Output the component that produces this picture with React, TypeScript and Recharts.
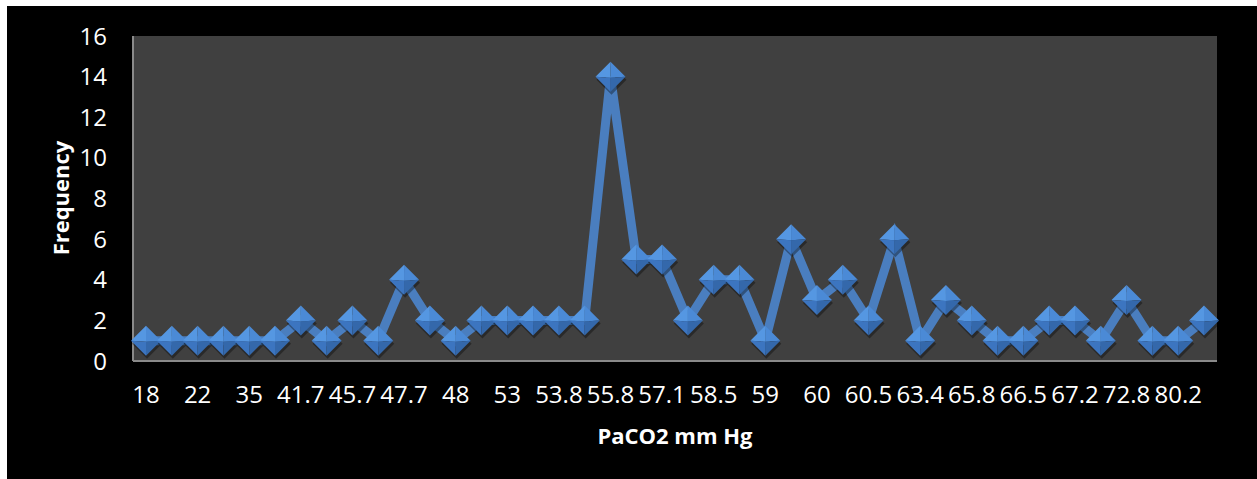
import React from "react";
import { LineChart, Line, XAxis, YAxis, CartesianGrid } from "recharts";

const categories = [
  "18", "20", "22", "30", "35", "40", "41.7", "43", "45.7", "47",
  "47.7", "47.9", "48", "50", "53", "53.5", "53.8", "55", "55.8", "56",
  "57.1", "58", "58.5", "58.8", "59", "59.5", "60", "60.2", "60.5", "62",
  "63.4", "64", "65.8", "66", "66.5", "67", "67.2", "70", "72.8", "75",
  "80.2", "85",
];

const frequency = [
  1, 1, 1, 1, 1, 1, 2, 1, 2, 1,
  4, 2, 1, 2, 2, 2, 2, 2, 14, 5,
  5, 2, 4, 4, 1, 6, 3, 4, 2, 6,
  1, 3, 2, 1, 1, 2, 2, 1, 3, 1,
  1, 2,
];

const yTicks = [0, 2, 4, 6, 8, 10, 12, 14, 16];

const data = categories.map((c, i) => ({ paco2: c, frequency: frequency[i] }));

const FONT = "'Open Sans', sans-serif";

const Diamond = (props: any) => {
  const { cx, cy } = props;
  if (cx == null || cy == null) return null;
  const r = 15;
  const t = `${cx},${cy - r}`;
  const b = `${cx},${cy + r}`;
  const l = `${cx - r},${cy}`;
  const rr = `${cx + r},${cy}`;
  const c = `${cx},${cy + 1}`;
  return (
    <g>
      <polygon points={`${cx + 1},${cy - r + 3} ${cx + r + 1},${cy + 3} ${cx + 1},${cy + r + 3} ${cx - r + 1},${cy + 3}`} fill="rgba(0,0,0,0.35)" />
      <polygon points={`${t} ${rr} ${c}`} fill="#4b8ad6" />
      <polygon points={`${t} ${l} ${c}`} fill="#5597e2" />
      <polygon points={`${l} ${b} ${c}`} fill="#3c75c0" />
      <polygon points={`${rr} ${b} ${c}`} fill="#3468ab" />
    </g>
  );
};

export default function App() {
  return (
    <div
      style={{
        position: "absolute",
        left: 7,
        top: 6,
        width: 1250,
        height: 473,
        background: "#000000",
      }}
    >
      <LineChart
        width={1250}
        height={473}
        data={data}
        margin={{ top: 30, right: 40, bottom: 28, left: 66 }}
      >
        <CartesianGrid fill="#404040" horizontal={false} vertical={false} stroke="none" />
        <XAxis
          dataKey="paco2"
          interval={1}
          height={90}
          padding={{ left: 13, right: 13 }}
          tickLine={false}
          tickSize={0}
          tickMargin={25}
          axisLine={{ stroke: "#8a8a8a", strokeWidth: 2 }}
          tick={{ fill: "#ffffff", fontSize: 24, fontFamily: FONT }}
        />
        <YAxis
          width={60}
          domain={[0, 16]}
          ticks={yTicks}
          interval={0}
          tickLine={false}
          tickSize={0}
          tickMargin={26}
          axisLine={{ stroke: "#8a8a8a", strokeWidth: 2 }}
          tick={{ fill: "#ffffff", fontSize: 24, fontFamily: FONT }}
        />
        <Line
          type="linear"
          dataKey="frequency"
          stroke="#4a7ebf"
          strokeWidth={9}
          dot={<Diamond />}
          activeDot={false}
          isAnimationActive={false}
        />
      </LineChart>
      <div
        style={{
          position: "absolute",
          left: 53,
          top: 192,
          transform: "translate(-50%, -50%) rotate(-90deg)",
          color: "#ffffff",
          fontFamily: FONT,
          fontWeight: 700,
          fontSize: 22,
          whiteSpace: "nowrap",
          lineHeight: 1,
        }}
      >
        Frequency
      </div>
      <div
        style={{
          position: "absolute",
          left: 668,
          top: 429,
          transform: "translate(-50%, -50%)",
          color: "#ffffff",
          fontFamily: FONT,
          fontWeight: 700,
          fontSize: 22,
          whiteSpace: "nowrap",
          lineHeight: 1,
        }}
      >
        PaCO2 mm Hg
      </div>
    </div>
  );
}
